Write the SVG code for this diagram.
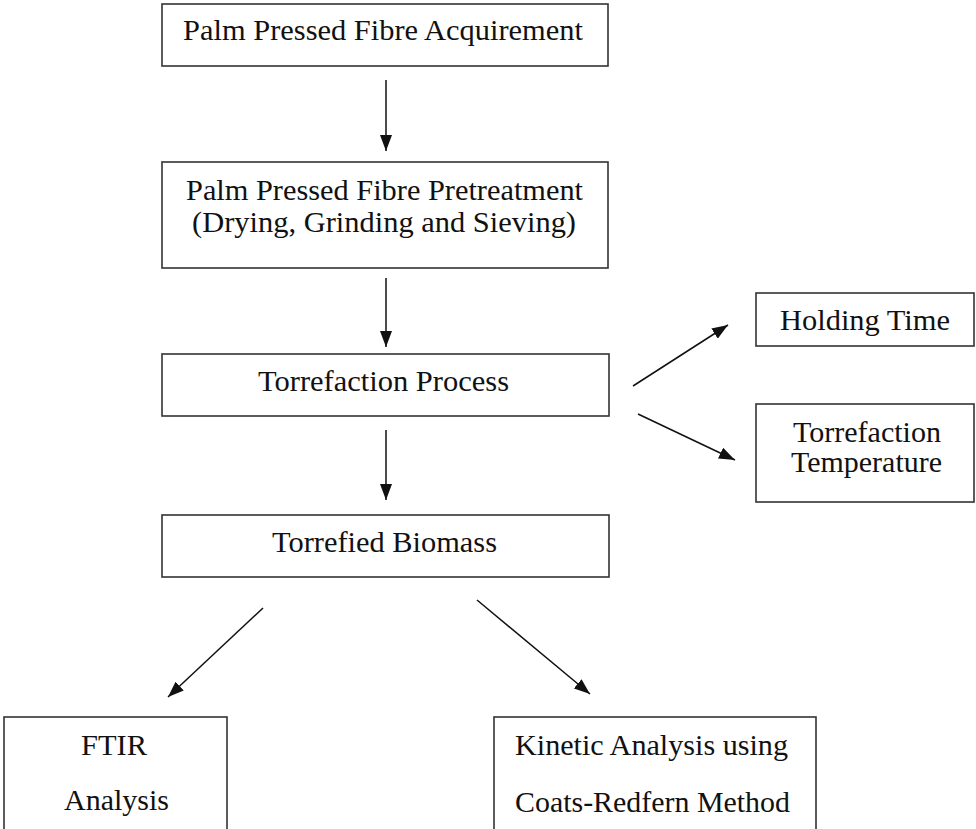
<svg xmlns="http://www.w3.org/2000/svg" width="976" height="829" viewBox="0 0 976 829">
<style>
.box{fill:#fff;stroke:#333;stroke-width:1.6}
.c{stroke:#111;stroke-width:1.5;fill:none;marker-end:url(#ah)}
</style>
<defs>
<marker id="ah" markerUnits="userSpaceOnUse" markerWidth="16" markerHeight="12" refX="16" refY="6" orient="auto">
<path d="M0,0 L16,6 L0,12 z" fill="#111"/>
</marker>
</defs>
<rect width="976" height="829" fill="#fff"/>
<g font-family="Liberation Serif" font-size="29" fill="#111">
<g id="n1"><rect class="box" x="162" y="4" width="446" height="62"/>
<text x="183" y="40" textLength="400" lengthAdjust="spacingAndGlyphs">Palm Pressed Fibre Acquirement</text></g>
<g id="n2"><rect class="box" x="162" y="162" width="446" height="106"/>
<text x="186" y="200" textLength="397" lengthAdjust="spacingAndGlyphs">Palm Pressed Fibre Pretreatment</text>
<text x="192" y="232" textLength="384" lengthAdjust="spacingAndGlyphs">(Drying, Grinding and Sieving)</text></g>
<g id="n3"><rect class="box" x="162" y="354" width="447" height="62"/>
<text x="258" y="391" textLength="251" lengthAdjust="spacingAndGlyphs">Torrefaction Process</text></g>
<g id="n4"><rect class="box" x="162" y="515" width="447" height="62"/>
<text x="272" y="552" textLength="225" lengthAdjust="spacingAndGlyphs">Torrefied Biomass</text></g>
<g id="n5"><rect class="box" x="756" y="293" width="218" height="53"/>
<text x="780" y="330" textLength="170" lengthAdjust="spacingAndGlyphs">Holding Time</text></g>
<g id="n6"><rect class="box" x="756" y="404" width="218" height="98"/>
<text x="793" y="442" textLength="148" lengthAdjust="spacingAndGlyphs">Torrefaction</text>
<text x="791" y="472" textLength="151" lengthAdjust="spacingAndGlyphs">Temperature</text></g>
<g id="n7"><rect class="box" x="4" y="717" width="223" height="130"/>
<text x="81" y="755" textLength="66" lengthAdjust="spacingAndGlyphs">FTIR</text>
<text x="64" y="810" textLength="105" lengthAdjust="spacingAndGlyphs">Analysis</text></g>
<g id="n8"><rect class="box" x="494" y="717" width="322" height="130"/>
<text x="515" y="755" textLength="273" lengthAdjust="spacingAndGlyphs">Kinetic Analysis using</text>
<text x="515" y="812" textLength="275" lengthAdjust="spacingAndGlyphs">Coats-Redfern Method</text></g>
</g>
<g id="connectors">
<line class="c" x1="386" y1="80" x2="386" y2="151"/>
<line class="c" x1="386" y1="278" x2="386" y2="347"/>
<line class="c" x1="386" y1="430" x2="386" y2="500"/>
<line class="c" x1="633" y1="386" x2="728" y2="325"/>
<line class="c" x1="638" y1="414" x2="735" y2="460"/>
<line class="c" x1="263" y1="608" x2="168" y2="697"/>
<line class="c" x1="477" y1="600" x2="590" y2="694"/>
</g>
</svg>
